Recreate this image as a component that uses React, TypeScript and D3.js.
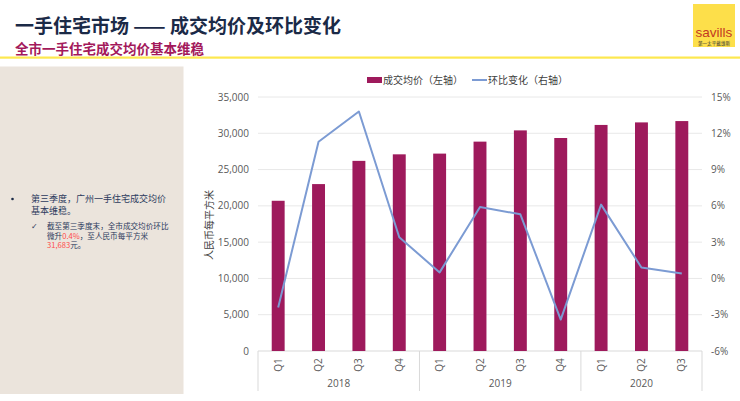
import React from "react";
import * as d3 from "d3";

const quarters = ["Q1", "Q2", "Q3", "Q4", "Q1", "Q2", "Q3", "Q4", "Q1", "Q2", "Q3"];
const years = ["2018", "2018", "2018", "2018", "2019", "2019", "2019", "2019", "2020", "2020", "2020"];
const prices = [20700, 23000, 26200, 27100, 27200, 28850, 30400, 29350, 31150, 31500, 31683];
const qoq = [-2.4, 11.3, 13.8, 3.4, 0.5, 5.9, 5.3, -3.4, 6.1, 0.9, 0.4];
const leftTicks = [0, 5000, 10000, 15000, 20000, 25000, 30000, 35000];
const rightTicks = [-6, -3, 0, 3, 6, 9, 12, 15];
const yearGroups = ["2018", "2019", "2020"];

const W = 740;
const H = 401;
const plotL = 258;
const plotR = 702;
const plotT = 97;
const plotB = 351;

const CJK = "'Noto Sans CJK SC', 'Noto Sans', sans-serif";
const SANS = "'Open Sans', 'Noto Sans', sans-serif";

export default function App() {
  const idx = quarters.map((_, i) => String(i));
  const x = d3.scaleBand<string>().domain(idx).range([plotL, plotR]).paddingInner(0.68).paddingOuter(0.34);
  const step = (plotR - plotL) / quarters.length;
  const yL = d3.scaleLinear().domain([0, 35000]).range([plotB, plotT]);
  const yR = d3.scaleLinear().domain([-6, 15]).range([plotB, plotT]);
  const fmt = d3.format(",");
  const line = d3
    .line<number>()
    .x((_, i) => plotL + step * (i + 0.5))
    .y((d) => yR(d));

  const groups = yearGroups.map((yr) => {
    const first = years.indexOf(yr);
    const last = years.lastIndexOf(yr);
    return { yr, x0: plotL + step * first, x1: plotL + step * (last + 1) };
  });

  return (
    <svg width={W} height={H} style={{ position: "absolute", left: 0, top: 0, background: "#fff" }}>
      {/* header */}
      <text x={15} y={32.5} fontFamily={CJK} fontWeight={700} fontSize={19} fill="#1b2a47">
        一手住宅市场 —— 成交均价及环比变化
      </text>
      <text x={15} y={53.5} fontFamily={CJK} fontWeight={700} fontSize={13.5} fill="#a3195b">
        全市一手住宅成交均价基本维稳
      </text>
      <rect x={0} y={56.5} width={W} height={2.2} fill="#fde84f" />
      {/* logo */}
      <rect x={693} y={4} width={42} height={43} fill="#fddf4a" />
      <text x={714} y={37} textAnchor="middle" fontFamily="'Liberation Sans', Arial, sans-serif" fontSize={13.5} fill="#c33a22">
        savills
      </text>
      <text x={714} y={44.5} textAnchor="middle" fontFamily={CJK} fontSize={4.6} fill="#333">
        第一太平戴维斯
      </text>

      {/* left panel */}
      <rect x={0} y={66.5} width={183.5} height={327.5} fill="#ebe4dc" />
      <circle cx={12.5} cy={199} r={1.3} fill="#1b2a47" />
      <text x={31} y={202} fontFamily={CJK} fontSize={9} fill="#2b3a5c">第三季度，广州一手住宅成交均价</text>
      <text x={31} y={213.5} fontFamily={CJK} fontSize={9} fill="#2b3a5c">基本维稳。</text>
      <text x={31} y={229} fontFamily={SANS} fontSize={8} fill="#2b3a5c">✓</text>
      <text x={47} y={229} fontFamily={CJK} fontSize={7.6} fill="#2b3a5c">截至第三季度末，全市成交均价环比</text>
      <text x={47} y={238.5} fontFamily={CJK} fontSize={7.6} fill="#2b3a5c">
        微升<tspan fill="#ff4a4a">0.4%</tspan>，至人民币每平方米
      </text>
      <text x={47} y={248} fontFamily={CJK} fontSize={7.6} fill="#2b3a5c">
        <tspan fill="#ff4a4a">31,683</tspan>元。
      </text>

      {/* legend */}
      <rect x={367} y={77} width={15} height={6} fill="#9e1a5c" />
      <text x={383} y={84} fontFamily={CJK} fontSize={10} fill="#404040">成交均价（左轴）</text>
      <line x1={472} x2={487} y1={80} y2={80} stroke="#7c9bd3" strokeWidth={2} />
      <text x={488} y={84} fontFamily={CJK} fontSize={10} fill="#404040">环比变化（右轴）</text>

      {/* gridlines */}
      {leftTicks.map((t) => (
        <line key={"g" + t} x1={plotL} x2={plotR} y1={yL(t)} y2={yL(t)} stroke={t === 0 ? "#d9d9d9" : "#e8e8e8"} strokeWidth={1} />
      ))}
      {leftTicks.map((t) => (
        <text key={"l" + t} x={249} y={yL(t) + 3.5} textAnchor="end" fontFamily={SANS} fontSize={10} fill="#595959">
          {fmt(t)}
        </text>
      ))}
      {rightTicks.map((t) => (
        <text key={"r" + t} x={711} y={yR(t) + 3.5} textAnchor="start" fontFamily={SANS} fontSize={10} fill="#595959">
          {t + "%"}
        </text>
      ))}
      <text
        transform={`translate(213,225) rotate(-90)`}
        textAnchor="middle"
        fontFamily={CJK}
        fontSize={10}
        fill="#404040"
      >
        人民币每平方米
      </text>

      {/* bars */}
      {prices.map((p, i) => (
        <rect key={"b" + i} x={x(String(i))} y={yL(p)} width={x.bandwidth()} height={plotB - yL(p)} fill="#9e1a5c" />
      ))}

      {/* line */}
      <path d={line(qoq) || ""} fill="none" stroke="#7c9bd3" strokeWidth={2} strokeLinejoin="round" />

      {/* category axis */}
      {quarters.map((q, i) => (
        <text
          key={"q" + i}
          transform={`translate(${plotL + step * (i + 0.5) + 3.5},365) rotate(-90)`}
          textAnchor="middle"
          fontFamily={SANS}
          fontSize={10}
          fill="#595959"
        >
          {q}
        </text>
      ))}
      {groups.map((g) => (
        <text key={"y" + g.yr} x={(g.x0 + g.x1) / 2} y={387} textAnchor="middle" fontFamily={SANS} fontSize={10} fill="#595959">
          {g.yr}
        </text>
      ))}
      {[plotL, ...groups.map((g) => g.x1)].map((bx, i) => (
        <line key={"s" + i} x1={bx} x2={bx} y1={plotB} y2={391} stroke="#d9d9d9" strokeWidth={1} />
      ))}
    </svg>
  );
}
